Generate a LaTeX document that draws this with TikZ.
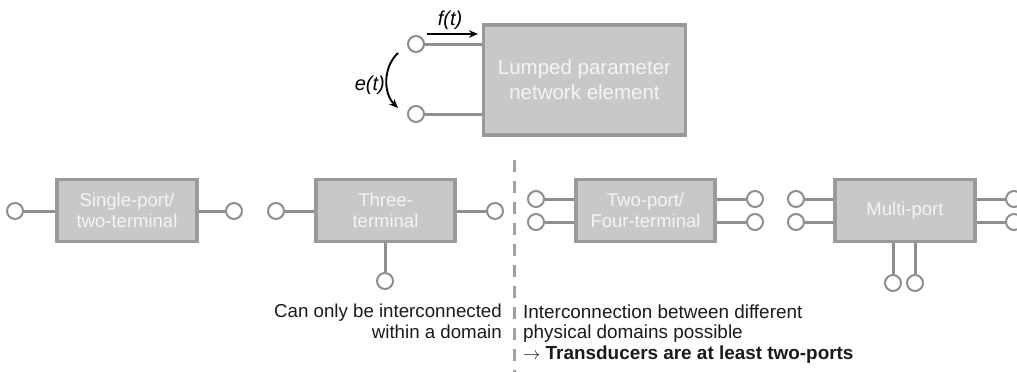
\documentclass[tikz,border=0pt]{standalone}
\usepackage{fontspec}
\setmainfont{Liberation Sans}
\usetikzlibrary{arrows.meta}
\definecolor{boxfill}{HTML}{C8C8C9}
\definecolor{boxline}{HTML}{9A9A9B}
\definecolor{wirecol}{HTML}{8E8E8F}
\definecolor{labtext}{HTML}{F4F4F4}
\definecolor{dashcol}{HTML}{A0A0A0}
\definecolor{notecol}{HTML}{1A1A1A}
\tikzset{
  elem/.style={draw=boxline, fill=boxfill, line width=3.2pt, text=labtext,
    align=center, inner sep=0pt, font=\fontsize{18.5}{21}\selectfont},
  term/.style={circle, draw=wirecol, fill=white, line width=2pt,
    minimum size=16pt, inner sep=0pt},
  wire/.style={draw=wirecol, line width=3pt},
  flowarrow/.style={draw=black, line width=1.9pt, -{Stealth[length=9pt,width=7.5pt]}},
  varlabel/.style={font=\itshape\fontsize{20}{24}\selectfont, inner sep=0pt},
  note/.style={font=\fontsize{18.7}{20.8}\selectfont, inner sep=0pt, text=notecol},
  divider/.style={draw=dashcol, line width=3pt, dash pattern=on 12pt off 9pt}
}
\begin{document}
\begin{tikzpicture}[x=1pt,y=-1pt]
\useasboundingbox (0,0) rectangle (1017,372);

% general network element with effort and flow
\node[elem, minimum width=202, minimum height=110,
  font=\fontsize{20.5}{25}\selectfont] (lpe) at (584.5,80) {Lumped parameter\\network element};
\node[term] (ta) at (416,44) {};
\node[term] (tb) at (416,114) {};
\draw[wire] (ta.east) -- (ta -| lpe.west);
\draw[wire] (tb.east) -- (tb -| lpe.west);
\coordinate (fs) at (427,34);
\coordinate (fe) at (478,34);
\draw[flowarrow] (fs) -- (fe);
\node[varlabel] (flab) at (450,20) {f(t)};
\coordinate (es) at (398,53);
\coordinate (ee) at (398,108);
\draw[flowarrow] (es) .. controls (383,67) and (383,93) .. (ee);
\node[varlabel, anchor=east] (elab) at (385,85) {e(t)};

% single-port / two-terminal
\node[elem, minimum width=140, minimum height=62] (sp) at (127,210.5) {Single-port/\\two-terminal};
\node[term] (sp1) at (15,211) {};
\node[term] (sp2) at (234,211) {};
\draw[wire] (sp1.east) -- (sp1 -| sp.west);
\draw[wire] (sp2.west) -- (sp2 -| sp.east);

% three-terminal
\node[elem, minimum width=139, minimum height=62] (tt) at (385.5,210.5) {Three-\\terminal};
\node[term] (tt1) at (276,211) {};
\node[term] (tt2) at (495,211) {};
\node[term] (tt3) at (385,281) {};
\draw[wire] (tt1.east) -- (tt1 -| tt.west);
\draw[wire] (tt2.west) -- (tt2 -| tt.east);
\draw[wire] (tt3.north) -- (tt3 |- tt.south);

% divider
\coordinate (dtop) at (514,160);
\coordinate (dbot) at (514,372);
\draw[divider] (dtop) -- (dbot);

% two-port / four-terminal
\node[elem, minimum width=139, minimum height=62] (tp) at (645.5,210.5) {Two-port/\\Four-terminal};
\node[term] (tp1) at (536,199) {};
\node[term] (tp2) at (536,222) {};
\node[term] (tp3) at (755,199) {};
\node[term] (tp4) at (755,222) {};
\draw[wire] (tp1.east) -- (tp1 -| tp.west);
\draw[wire] (tp2.east) -- (tp2 -| tp.west);
\draw[wire] (tp3.west) -- (tp3 -| tp.east);
\draw[wire] (tp4.west) -- (tp4 -| tp.east);

% multi-port
\node[elem, minimum width=140, minimum height=62] (mp) at (905,210.5) {Multi-port};
\node[term] (mp1) at (796,199) {};
\node[term] (mp2) at (796,222) {};
\node[term] (mp3) at (1014,199) {};
\node[term] (mp4) at (1014,222) {};
\node[term] (mp5) at (893,283) {};
\node[term] (mp6) at (915,283) {};
\draw[wire] (mp1.east) -- (mp1 -| mp.west);
\draw[wire] (mp2.east) -- (mp2 -| mp.west);
\draw[wire] (mp3.west) -- (mp3 -| mp.east);
\draw[wire] (mp4.west) -- (mp4 -| mp.east);
\draw[wire] (mp5.north) -- (mp5 |- mp.south);
\draw[wire] (mp6.north) -- (mp6 |- mp.south);

% notes
\node[note, align=right, anchor=north east] (nl) at (502,303.5)
  {Can only be interconnected\\within a domain};
\node[note, align=left, anchor=north west, font=\fontsize{18.9}{20.5}\selectfont] (nr) at (523,304.5)
  {Interconnection between different\\physical domains possible\\$\rightarrow$ \textbf{Transducers are at least two-ports}};
\end{tikzpicture}
\end{document}
